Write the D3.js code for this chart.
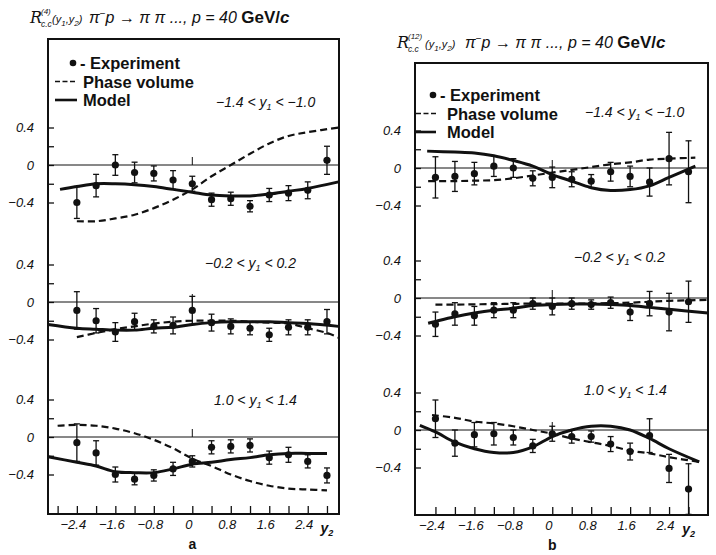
<!DOCTYPE html>
<html>
<head>
<meta charset="utf-8">
<script src="https://cdn.jsdelivr.net/npm/d3@7"></script>
<style>
  body { margin: 0; background: #fff; }
  text { font-family: "Liberation Sans", Arial, sans-serif; fill: #111; }
  .num { font-style: italic; font-size: 13px; }
  .leg { font-weight: bold; font-size: 16.5px; }
</style>
</head>
<body>
<svg id="chart" width="716" height="555"></svg>
<script>
// y2 bin centres shared by every sub-panel
const y2 = [-2.4, -2.0, -1.6, -1.2, -0.8, -0.4, 0, 0.4, 0.8, 1.2, 1.6, 2.0, 2.4, 2.8];

// panel a
const expA1 = [-0.40, -0.22, 0.00, -0.08, -0.09, -0.16, -0.20, -0.37, -0.36, -0.44, -0.32, -0.30, -0.27, 0.05];
const errA1 = [0.17, 0.12, 0.11, 0.11, 0.08, 0.10, 0.08, 0.07, 0.07, 0.06, 0.07, 0.08, 0.09, 0.15];
const modelA1 = [[-2.75,-0.26],[-2.4,-0.23],[-2.0,-0.20],[-1.6,-0.20],[-1.2,-0.21],[-0.8,-0.23],[-0.4,-0.26],[0,-0.29],[0.4,-0.32],[0.8,-0.33],[1.2,-0.33],[1.6,-0.31],[2.0,-0.28],[2.4,-0.25],[3.04,-0.18]];
const phaseA1 = [[-2.4,-0.60],[-2.0,-0.60],[-1.6,-0.57],[-1.2,-0.53],[-0.8,-0.46],[-0.4,-0.37],[0,-0.26],[0.4,-0.12],[0.8,0.00],[1.2,0.12],[1.6,0.23],[2.0,0.31],[2.4,0.35],[3.04,0.40]];

const expA2 = [-0.09, -0.20, -0.32, -0.21, -0.26, -0.25, -0.09, -0.22, -0.26, -0.28, -0.35, -0.27, -0.27, -0.21];
const errA2 = [0.20, 0.13, 0.10, 0.09, 0.07, 0.09, 0.15, 0.09, 0.08, 0.07, 0.07, 0.08, 0.08, 0.13];
const modelA2 = [[-3.0,-0.24],[-2.4,-0.28],[-2.0,-0.29],[-1.6,-0.30],[-1.2,-0.30],[-0.8,-0.28],[-0.4,-0.27],[0,-0.24],[0.4,-0.22],[0.8,-0.21],[1.2,-0.21],[1.6,-0.21],[2.0,-0.22],[2.4,-0.23],[3.04,-0.26]];
const phaseA2 = [[-2.4,-0.375],[-2.0,-0.33],[-1.6,-0.29],[-1.2,-0.26],[-0.8,-0.23],[-0.4,-0.21],[0,-0.20],[0.4,-0.20],[0.8,-0.20],[1.2,-0.21],[1.6,-0.22],[2.0,-0.23],[2.4,-0.28],[2.8,-0.33],[3.04,-0.38]];

const expA3 = [-0.06, -0.17, -0.40, -0.45, -0.41, -0.34, -0.26, -0.11, -0.10, -0.09, -0.22, -0.19, -0.26, -0.41];
const errA3 = [0.20, 0.13, 0.08, 0.06, 0.06, 0.07, 0.06, 0.07, 0.07, 0.07, 0.07, 0.08, 0.07, 0.08];
const modelA3 = [[-3.0,-0.21],[-2.4,-0.27],[-2.0,-0.31],[-1.6,-0.37],[-1.2,-0.38],[-0.8,-0.38],[-0.4,-0.34],[0,-0.29],[0.4,-0.27],[0.8,-0.24],[1.2,-0.22],[1.6,-0.19],[2.0,-0.175],[2.4,-0.175],[2.8,-0.175]];
const phaseA3 = [[-2.8,0.12],[-2.4,0.13],[-2.0,0.12],[-1.6,0.09],[-1.2,0.04],[-0.8,-0.03],[-0.4,-0.12],[0,-0.23],[0.4,-0.31],[0.8,-0.40],[1.2,-0.47],[1.6,-0.52],[2.0,-0.55],[2.4,-0.56],[2.8,-0.57]];

// panel b
const expB1 = [-0.10, -0.09, -0.06, 0.02, 0.00, -0.11, -0.10, -0.12, -0.14, -0.04, -0.09, -0.15, 0.10, -0.04];
const errB1 = [0.22, 0.16, 0.12, 0.11, 0.10, 0.08, 0.11, 0.08, 0.07, 0.10, 0.11, 0.15, 0.28, 0.33];
const modelB1 = [[-2.57,0.18],[-2.0,0.17],[-1.6,0.16],[-1.2,0.13],[-0.8,0.08],[-0.4,0.02],[0,-0.07],[0.4,-0.14],[0.8,-0.21],[1.2,-0.24],[1.6,-0.23],[2.0,-0.19],[2.4,-0.10],[2.94,0.02]];
const phaseB1 = [[-2.55,-0.14],[-2.0,-0.14],[-1.6,-0.135],[-1.2,-0.13],[-0.8,-0.11],[-0.4,-0.08],[0,-0.05],[0.4,-0.02],[0.8,0.01],[1.2,0.04],[1.6,0.06],[2.0,0.09],[2.4,0.10],[2.94,0.11]];

const expB2 = [-0.28, -0.17, -0.19, -0.13, -0.13, -0.06, -0.09, -0.06, -0.07, -0.05, -0.15, -0.06, -0.15, -0.04];
const errB2 = [0.13, 0.12, 0.10, 0.08, 0.08, 0.06, 0.09, 0.06, 0.05, 0.06, 0.09, 0.13, 0.20, 0.22];
const modelB2 = [[-2.55,-0.27],[-2.4,-0.25],[-2.0,-0.20],[-1.6,-0.16],[-1.2,-0.13],[-0.8,-0.11],[-0.4,-0.08],[0,-0.07],[0.4,-0.065],[0.8,-0.065],[1.2,-0.07],[1.6,-0.08],[2.0,-0.10],[2.4,-0.12],[3.2,-0.16]];
const phaseB2 = [[-2.4,-0.07],[-2.0,-0.07],[-1.2,-0.065],[-0.4,-0.06],[0.4,-0.06],[1.2,-0.055],[1.6,-0.05],[2.0,-0.04],[2.4,-0.03],[3.2,-0.02]];

const expB3 = [0.12, -0.14, -0.05, -0.04, -0.08, -0.17, -0.04, -0.07, -0.07, -0.15, -0.23, -0.06, -0.41, -0.63];
const errB3 = [0.20, 0.14, 0.13, 0.12, 0.08, 0.07, 0.08, 0.07, 0.06, 0.08, 0.09, 0.18, 0.15, 0.27];
const modelB3 = [[-2.72,0.05],[-2.4,-0.02],[-2.0,-0.13],[-1.6,-0.20],[-1.2,-0.24],[-0.8,-0.24],[-0.4,-0.18],[0,-0.07],[0.4,0.0],[0.8,0.04],[1.2,0.04],[1.6,0.0],[2.0,-0.09],[2.4,-0.20],[3.02,-0.34]];
const phaseB3 = [[-2.47,0.16],[-2.0,0.13],[-1.6,0.09],[-1.2,0.07],[-0.8,0.04],[-0.4,0.0],[0,-0.04],[0.4,-0.09],[0.8,-0.13],[1.2,-0.17],[1.6,-0.22],[2.0,-0.25],[2.4,-0.29],[3.02,-0.34]];

const yTicks = [-0.4, -0.2, 0, 0.2, 0.4];
const xTickLabels = [-2.4, -1.6, -0.8, 0, 0.8, 1.6, 2.4];
const ranges = [["−1.4", "−1.0"], ["−0.2", "0.2"], ["1.0", "1.4"]];

const panels = [
  { name: "a", sup: "(4)", left: 48, right: 339, top: 39, bottom: 514, xDomain: [-3.0, 3.05],
    xTicks: [-2.8, -2.4, -2.0, -1.6, -1.2, -0.8, -0.4, 0, 0.4, 0.8, 1.2, 1.6, 2.0, 2.4, 2.8],
    title: { x: 30, y: 23, args: 22, main: 59 },
    legend: { y: 63, lineX: [55, 77], textX: 83, dotX: 73, expX: 80 },
    subs: [
      { zero: 165, exp: expA1, err: errA1, model: modelA1, phase: phaseA1, label: [216, 107] },
      { zero: 302, exp: expA2, err: errA2, model: modelA2, phase: phaseA2, label: [205, 268] },
      { zero: 437, exp: expA3, err: errA3, model: modelA3, phase: phaseA3, label: [214, 405] }
    ] },
  { name: "b", sup: "(12)", left: 415, right: 708, top: 63, bottom: 515, xDomain: [-2.82, 3.2],
    xTicks: [-2.4, -2.0, -1.6, -1.2, -0.8, -0.4, 0, 0.4, 0.8, 1.2, 1.6, 2.0, 2.4, 2.8],
    title: { x: 397, y: 48, args: 28, main: 68 },
    legend: { y: 95, lineX: [416, 436], textX: 447, dotX: 433, expX: 440 },
    subs: [
      { zero: 168, exp: expB1, err: errB1, model: modelB1, phase: phaseB1, label: [585, 117] },
      { zero: 298, exp: expB2, err: errB2, model: modelB2, phase: phaseB2, label: [574, 262] },
      { zero: 430, exp: expB3, err: errB3, model: modelB3, phase: phaseB3, label: [584, 395] }
    ] }
];

const svg = d3.select("#chart");
const halfSpan = 37.5; // px for 0.4

panels.forEach(p => {
  const g = svg.append("g");
  const x = d3.scaleLinear().domain(p.xDomain).range([p.left, p.right]);

  // title
  const tx = p.title.x, ty = p.title.y;
  g.append("text").attr("x", tx).attr("y", ty)
    .style("font-family", "'DejaVu Serif', serif").style("font-style", "italic").style("font-size", "16px").text("R");
  g.append("text").attr("x", tx + 11).attr("y", ty - 9).style("font-size", "8px").style("font-style", "italic").text(p.sup);
  g.append("text").attr("x", tx + 11).attr("y", ty + 4).style("font-size", "8.5px").style("font-style", "italic").text("c.c");
  const t2 = g.append("text").attr("x", tx + p.title.args).attr("y", ty).style("font-style", "italic").style("font-size", "11px");
  t2.append("tspan").text("(y");
  t2.append("tspan").attr("dy", 3).style("font-size", "8px").text("1");
  t2.append("tspan").attr("dy", -3).text(",y");
  t2.append("tspan").attr("dy", 3).style("font-size", "8px").text("2");
  t2.append("tspan").attr("dy", -3).text(")");
  const t3 = g.append("text").attr("x", tx + p.title.main).attr("y", ty).style("font-size", "16px");
  t3.append("tspan").style("font-style", "italic").text("π");
  t3.append("tspan").attr("dy", -6).style("font-size", "10px").text("−");
  t3.append("tspan").attr("dy", 6).style("font-style", "italic").text("p → π π ..., p = 40 ");
  t3.append("tspan").style("font-weight", "bold").style("font-size", "17px").text("GeV/");
  t3.append("tspan").style("font-weight", "bold").style("font-style", "italic").style("font-size", "17px").text("c");

  // frame
  g.append("rect").attr("x", p.left).attr("y", p.top)
    .attr("width", p.right - p.left).attr("height", p.bottom - p.top)
    .attr("fill", "none").attr("stroke", "#111").attr("stroke-width", 2);

  // legend
  const L = p.legend;
  g.append("circle").attr("cx", L.dotX).attr("cy", L.y).attr("r", 3.3).attr("fill", "#111");
  g.append("text").attr("class", "leg").attr("x", L.expX).attr("y", L.y + 6).text("- Experiment");
  g.append("line").attr("x1", L.lineX[0]).attr("x2", L.lineX[1]).attr("y1", L.y + 18.5).attr("y2", L.y + 18.5)
    .attr("stroke", "#111").attr("stroke-width", 1.6).attr("stroke-dasharray", "5,2.5");
  g.append("text").attr("class", "leg").attr("x", L.textX).attr("y", L.y + 24.5).text("Phase volume");
  g.append("line").attr("x1", L.lineX[0]).attr("x2", L.lineX[1]).attr("y1", L.y + 37).attr("y2", L.y + 37)
    .attr("stroke", "#111").attr("stroke-width", 2.6);
  g.append("text").attr("class", "leg").attr("x", L.textX).attr("y", L.y + 43).text("Model");

  // bottom axis: ticks point inward
  const xAxis = d3.axisBottom(x).tickValues(p.xTicks).tickSizeInner(-8).tickSizeOuter(0).tickPadding(6)
    .tickFormat(d => xTickLabels.some(v => Math.abs(v - d) < 1e-6) ? (d < 0 ? "−" + Math.abs(d) : String(d)) : "");
  const xa = g.append("g").attr("transform", `translate(0,${p.bottom})`).call(xAxis);
  xa.select(".domain").remove();
  xa.selectAll("line").attr("stroke", "#111").attr("stroke-width", 1.3);
  xa.selectAll("text").attr("class", "num").style("font-size", "13px").attr("fill", "#111").attr("dx", -4);
  const ylab = g.append("text").attr("class", "num").attr("x", x(2.8)).attr("y", p.bottom + 19)
    .attr("text-anchor", "middle").style("font-size", "14px").style("font-weight", "bold");
  ylab.append("tspan").text("y");
  ylab.append("tspan").attr("dy", 3).style("font-size", "9px").text("2");
  g.append("text").attr("x", x(0)).attr("y", p.bottom + 35).attr("text-anchor", "middle")
    .style("font-size", "14px").style("font-weight", "bold").text(p.name);

  const model = d3.line().curve(d3.curveCatmullRom.alpha(0.5));
  p.subs.forEach((s, si) => {
    const y = d3.scaleLinear().domain([-0.4, 0.4]).range([s.zero + halfSpan, s.zero - halfSpan]);
    const sg = g.append("g");

    // left axis ticks, inward
    const yAxis = d3.axisLeft(y).tickValues(yTicks).tickSizeInner(-6).tickSizeOuter(0).tickPadding(14)
      .tickFormat(d => Math.abs(d) === 0.2 ? "" : d === 0 ? "0" : d < 0 ? "−" + Math.abs(d) : String(d));
    const ya = sg.append("g").attr("transform", `translate(${p.left},0)`).call(yAxis);
    ya.select(".domain").remove();
    ya.selectAll("line").attr("stroke", "#111").attr("stroke-width", 1.3);
    ya.selectAll("text").attr("class", "num").attr("fill", "#111");

    // zero line and tick at y2 = 0
    sg.append("line").attr("x1", p.left).attr("x2", p.right).attr("y1", y(0)).attr("y2", y(0))
      .attr("stroke", "#111").attr("stroke-width", 1);
    sg.append("line").attr("x1", x(0)).attr("x2", x(0)).attr("y1", y(0)).attr("y2", y(0) - 8)
      .attr("stroke", "#111").attr("stroke-width", 1);

    // range label
    const lt = sg.append("text").attr("class", "num").attr("x", s.label[0]).attr("y", s.label[1]).style("font-size", "14px");
    lt.append("tspan").text(ranges[si][0] + " < y");
    lt.append("tspan").attr("dy", 3).style("font-size", "9px").text("1");
    lt.append("tspan").attr("dy", -3).text(" < " + ranges[si][1]);

    // phase volume (dashed) and model (solid)
    sg.append("path").attr("d", model(s.phase.map(d => [x(d[0]), y(d[1])])))
      .attr("fill", "none").attr("stroke", "#111").attr("stroke-width", 2.2).attr("stroke-dasharray", "7,4");
    sg.append("path").attr("d", model(s.model.map(d => [x(d[0]), y(d[1])])))
      .attr("fill", "none").attr("stroke", "#111").attr("stroke-width", 3);

    // experiment points with error bars
    const pts = sg.selectAll(".pt").data(y2.map((v, i) => ({ v, val: s.exp[i], e: s.err[i] })))
      .enter().append("g").attr("class", "pt");
    pts.append("line").attr("x1", d => x(d.v)).attr("x2", d => x(d.v))
      .attr("y1", d => y(d.val - d.e)).attr("y2", d => y(d.val + d.e))
      .attr("stroke", "#111").attr("stroke-width", 1.3);
    [-1, 1].forEach(sgn => {
      pts.append("line").attr("x1", d => x(d.v) - 3).attr("x2", d => x(d.v) + 3)
        .attr("y1", d => y(d.val + sgn * d.e)).attr("y2", d => y(d.val + sgn * d.e))
        .attr("stroke", "#111").attr("stroke-width", 1.3);
    });
    pts.append("circle").attr("cx", d => x(d.v)).attr("cy", d => y(d.val)).attr("r", 3.6).attr("fill", "#111");
  });
});
</script>
</body>
</html>
